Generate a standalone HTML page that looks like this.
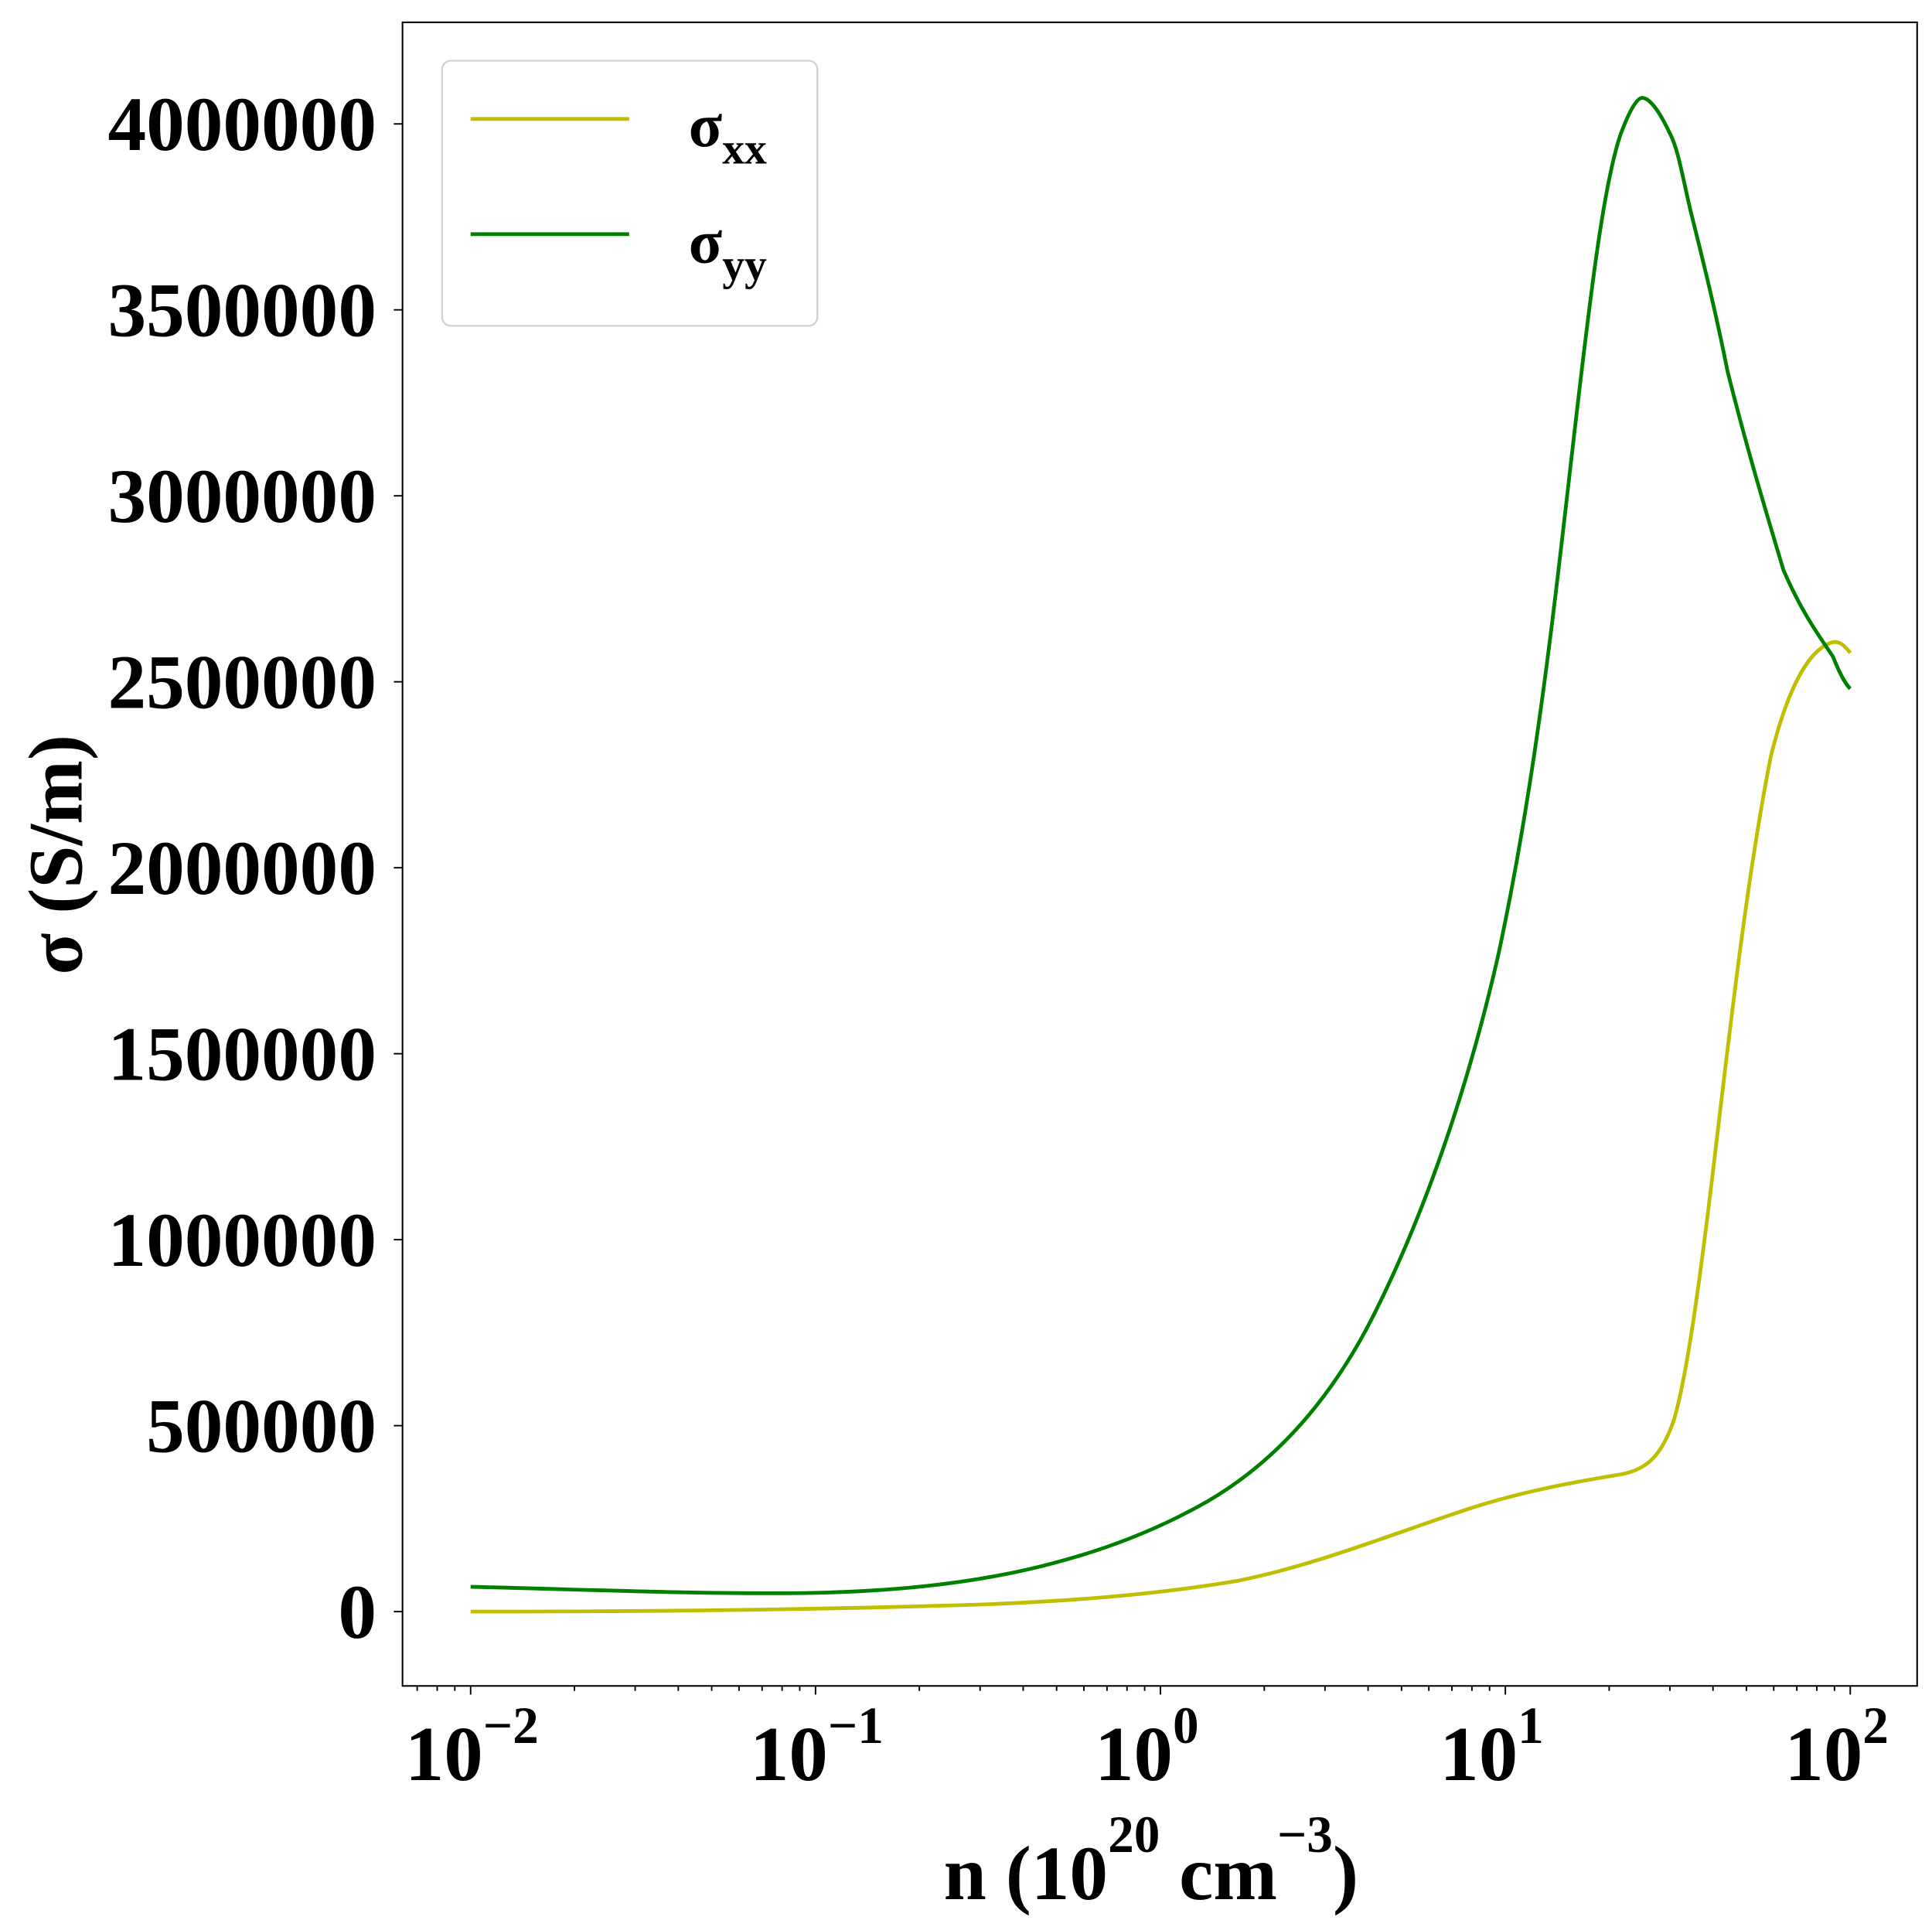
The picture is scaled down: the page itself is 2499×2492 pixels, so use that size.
<!DOCTYPE html>
<html><head><meta charset="utf-8"><style>
html,body{margin:0;padding:0;background:#fff;}
svg{display:block;}
text{font-family:"Liberation Serif",serif;font-weight:bold;fill:#000;}
</style></head><body>
<svg id="s" width="2499" height="2492" viewBox="0 0 1560 1555.6" xmlns="http://www.w3.org/2000/svg">
<rect x="0" y="0" width="1560" height="1556" fill="#fff"/>
<g id="ticks" stroke="#000" stroke-width="1.2"></g>
<path fill="none" stroke="#bfbf00" stroke-width="3" stroke-linejoin="round" d="M380,1301 C500,1301 650,1300 800,1295 C870,1292 935,1287 1000,1276 C1060,1264 1120,1240 1180,1220 C1230,1203 1280,1195 1310,1190 C1330,1186 1342,1175 1352,1145 C1362,1110 1372,1040 1385,930 C1398,820 1412,700 1430,610 C1445,550 1462,525 1478,519 C1485,516 1490,522 1494,527"/>
<path fill="none" stroke="#008000" stroke-width="3" stroke-linejoin="round" d="M380,1281 C470,1283 560,1287 650,1286 C720,1285 790,1278 850,1262 C900,1249 940,1232 975,1212 C1030,1180 1075,1130 1110,1060 C1150,980 1185,880 1210,770 C1240,630 1255,490 1270,360 C1285,230 1295,150 1308,110 C1316,88 1322,79 1326,79 C1332,79 1340,90 1348,107 C1355,120 1358,140 1365,170 C1375,210 1385,250 1395,300 C1410,360 1425,410 1440,460 C1455,495 1470,515 1480,530 C1486,545 1490,552 1494,556"/>
<rect x="325" y="18" width="1223" height="1343" fill="none" stroke="#000" stroke-width="1.3"/>
<rect x="357" y="49" width="303" height="214" rx="7" fill="#fff" stroke="#d0d0d0" stroke-width="1.4"/>
<line x1="380" y1="96" x2="508" y2="96" stroke="#bfbf00" stroke-width="3"/>
<line x1="380" y1="189" x2="508" y2="189" stroke="#008000" stroke-width="3"/>
<text x="556" y="118" font-size="50">σ<tspan font-size="36" dy="14">xx</tspan></text>
<text x="556" y="212" font-size="50">σ<tspan font-size="36" dy="14">yy</tspan></text>
<g id="ylabels" font-size="62" text-anchor="end"></g>
<g id="xlabels" font-size="63"></g>
<text x="762" y="1533" font-size="62">n (10<tspan font-size="42" dy="-38">20</tspan><tspan dy="38"> cm</tspan><tspan font-size="42" dy="-38">−3</tspan><tspan dy="38">)</tspan></text>
<text transform="translate(66,690) rotate(-90)" font-size="62" text-anchor="middle">σ (S/m)</text>
</svg>
<script>
var ns="http://www.w3.org/2000/svg";
var tg=document.getElementById("ticks"),yl=document.getElementById("ylabels"),xl=document.getElementById("xlabels");
function ln(x1,y1,x2,y2){var l=document.createElementNS(ns,"line");l.setAttribute("x1",x1);l.setAttribute("y1",y1);l.setAttribute("x2",x2);l.setAttribute("y2",y2);tg.appendChild(l);}
for(var i=0;i<=8;i++){var y=1301-i*(1301-100)/8;ln(325,y,318,y);
var t=document.createElementNS(ns,"text");t.setAttribute("x",304);t.setAttribute("y",y+21);t.textContent=String(i*500000);yl.appendChild(t);}
var X0=380,D=278.5;
for(var d=-3;d<=2;d++){
  for(var k=1;k<=9;k++){var x=X0+(d+2+Math.log10(k))*D; if(x<325||x>1548)continue;
    if(k==1){ln(x,1361,x,1368);}else{ln(x,1361,x,1365);}}
}
var sup=["−2","−1","0","1","2"];
for(var j=0;j<5;j++){var x=X0+j*D;var t=document.createElementNS(ns,"text");
t.setAttribute("x",x-53);t.setAttribute("y",1437);t.innerHTML='10<tspan font-size="42" dy="-30">'+sup[j]+'</tspan>';xl.appendChild(t);}
</script>
</body></html>
